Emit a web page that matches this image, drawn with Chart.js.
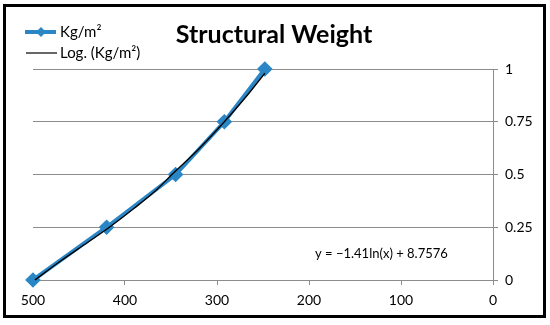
<!DOCTYPE html>
<html>
<head>
<meta charset="utf-8">
<script src="https://cdn.jsdelivr.net/npm/chart.js@4/dist/chart.umd.min.js"></script>
<style>
  html, body { margin: 0; padding: 0; background: #fff; }
  #wrap { width: 550px; height: 325px; position: relative; }
</style>
</head>
<body>
<div id="wrap"><canvas id="weightChart" width="550" height="325"></canvas></div>
<script>
// data
var weightX = [500, 420, 345, 292, 248];
var weightY = [0, 0.25, 0.5, 0.75, 1];
var trendX = [498, 470, 440, 417, 390, 365, 349, 320, 292, 270, 248];
var trendY = [0, 0.09, 0.18, 0.25, 0.34, 0.43, 0.5, 0.62, 0.75, 0.86, 0.98];
var seriesNames = ["Kg/m\u00b2", "Log. (Kg/m\u00b2)"];
var chartTitle = "Structural Weight";
var equationText = "y = \u22121.41ln(x) + 8.7576";

var blue = "#2b86c5";
var fontName = "Lato, 'Open Sans', sans-serif";

function toPoints(xs, ys) {
    var pts = [];
    for (var i = 0; i < xs.length; i++) pts.push({ x: xs[i], y: ys[i] });
    return pts;
}

// border, title, legend and equation
var decorations = {
    id: "decorations",
    afterDraw: function (chart) {
        var c = chart.ctx;
        c.save();
        c.strokeStyle = "#000";
        c.lineWidth = 3;
        c.strokeRect(4.5, 5.5, 540, 311);

        c.fillStyle = "#000";
        c.font = "bold 25px " + fontName;
        c.textAlign = "center";
        c.textBaseline = "middle";
        c.fillText(chartTitle, 274, 35);

        // legend
        c.textAlign = "left";
        c.font = "15px " + fontName;
        c.strokeStyle = blue;
        c.lineWidth = 4;
        c.beginPath();
        c.moveTo(25, 32);
        c.lineTo(56, 32);
        c.stroke();
        c.fillStyle = blue;
        c.beginPath();
        c.moveTo(41, 27); c.lineTo(46, 32); c.lineTo(41, 37); c.lineTo(36, 32);
        c.closePath();
        c.fill();
        c.fillStyle = "#000";
        c.fillText(seriesNames[0], 60, 32);

        c.strokeStyle = "#000";
        c.lineWidth = 1.2;
        c.beginPath();
        c.moveTo(26, 53);
        c.lineTo(57, 53);
        c.stroke();
        c.fillText(seriesNames[1], 60, 53);

        c.font = "13px " + fontName;
        c.fillText(equationText, 315, 254);
        c.restore();
    }
};

var ctx = document.getElementById("weightChart").getContext("2d");
var weightChart = new Chart(ctx, {
    type: "line",
    data: {
        datasets: [
            {
                label: seriesNames[0],
                data: toPoints(weightX, weightY),
                borderColor: blue,
                backgroundColor: blue,
                borderWidth: 4,
                pointStyle: "rectRot",
                pointRadius: 5,
                pointHoverRadius: 5,
                tension: 0,
                clip: false,
                order: 1,
            },
            {
                label: seriesNames[1],
                data: toPoints(trendX, trendY),
                borderColor: "#000",
                borderWidth: 1.3,
                pointRadius: 0,
                cubicInterpolationMode: "monotone",
                clip: false,
                order: 0,
            },
        ],
    },
    options: {
        responsive: false,
        animation: false,
        layout: { padding: { left: 33, top: 69, right: 7, bottom: 10 } },
        plugins: {
            legend: { display: false },
            title: { display: false },
            tooltip: { enabled: false },
        },
        scales: {
            x: {
                type: "linear",
                reverse: true,
                min: 0,
                max: 500,
                ticks: { stepSize: 100, color: "#000", padding: 7, font: { family: fontName, size: 14 } },
                grid: { drawOnChartArea: false, drawTicks: true, tickLength: 5, color: "#8c8c8c" },
                border: { color: "#8c8c8c", width: 1 },
                afterFit: function (scale) { scale.height = 35; },
            },
            y: {
                position: "right",
                min: 0,
                max: 1,
                ticks: {
                    stepSize: 0.25,
                    color: "#000",
                    padding: 7,
                    font: { family: fontName, size: 14 },
                    callback: function (value) { return String(value); },
                },
                grid: { color: "#8c8c8c", tickLength: 5 },
                border: { color: "#8c8c8c", width: 1 },
                afterFit: function (scale) { scale.width = 50; },
            },
        },
    },
    plugins: [decorations],
});
</script>
</body>
</html>
